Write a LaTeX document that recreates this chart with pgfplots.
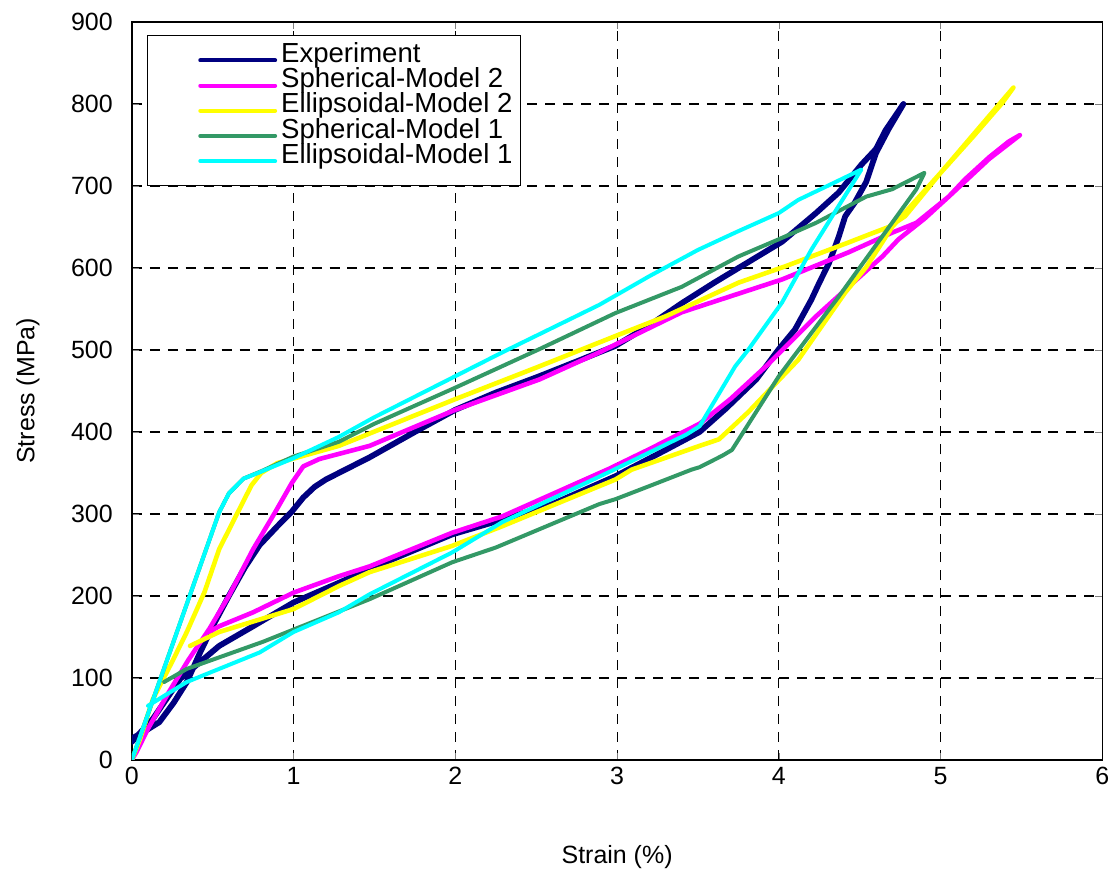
\documentclass[border=0pt]{standalone}
\usepackage{fontspec}
\setmainfont{Liberation Sans}
\usepackage{pgfplots}
\pgfplotsset{compat=1.18}

\definecolor{expcol}{RGB}{0,0,128}
\definecolor{sph2}{RGB}{255,0,255}
\definecolor{ell2}{RGB}{255,255,0}
\definecolor{sph1}{RGB}{51,153,102}
\definecolor{ell1}{RGB}{0,255,255}

\begin{document}
\begin{tikzpicture}
\begin{axis}[
    name=ax,
    scale only axis,
    width=486pt, height=369.5pt,
    xmin=0, xmax=6, ymin=0, ymax=900,
    xtick={0,1,...,6},
    ytick={0,100,...,900},
    tick align=inside,
    major tick length=3.5pt,
    axis line style={black, line width=0.9pt},
    grid=major,
    major grid style={black, line width=0.6pt, dash pattern=on 5pt off 4pt},
    tick label style={font=\fontsize{12.5}{14}\selectfont},
    /pgf/number format/assume math mode=true,
    yticklabel style={xshift=-6pt},
    xlabel={Strain (\%)},
    ylabel={Stress (MPa)},
    label style={font=\fontsize{12.5}{14}\selectfont},
    xlabel style={at={(axis description cs:0.5,-0.131)}, anchor=center},
    ylabel style={at={(axis description cs:-0.107,0.5)}, anchor=center},
    legend cell align=left,
    legend style={
        at={(0.0154,0.982)}, anchor=north west,
        draw=black, line width=0.6pt,
        font=\fontsize{13.8}{13.8}\selectfont,
        inner xsep=2pt, inner ysep=6pt,
        row sep=0pt, column sep=0pt,
        nodes={text height=7.4pt, text depth=5.2pt, inner ysep=0pt},
    },
    legend image code/.code={
        \path[draw=none] (0pt,0pt) -- (24.5pt,0pt);
        \draw[#1, line width=2pt, line cap=round] (24.5pt,0pt) -- (62pt,0pt);
    },
    every axis plot/.append style={line join=round, line cap=round},
]
% Experiment
\addplot[expcol, line width=2.9pt] coordinates {
(0,26) (0.08,35) (0.17,46) (0.26,70) (0.34,95) (0.42,130) (0.5,163) (0.6,200)
(0.7,235) (0.79,262) (0.9,285) (0.99,303) (1.06,320) (1.13,333) (1.2,342)
(1.3,352) (1.47,369) (1.75,400) (2.0,427) (2.25,448) (2.52,468) (2.75,486)
(2.99,505) (3.2,530) (3.4,557) (3.6,582) (3.81,607) (4.02,632) (4.23,667)
(4.37,692) (4.51,726) (4.6,745) (4.66,768) (4.77,800)
(4.68,770) (4.6,740) (4.54,705) (4.47,680) (4.41,663) (4.37,638) (4.31,606)
(4.25,582) (4.2,561) (4.1,525) (4.0,501) (3.86,464) (3.67,428) (3.51,400)
(3.3,378) (2.99,346) (2.6,312) (2.29,293) (1.98,275) (1.7,252) (1.47,233)
(1.28,216) (1.0,192) (0.75,163) (0.54,139) (0.3,99) (0.13,50) (0,22)
};
\addlegendentry{Experiment}
% Spherical-Model 2
\addplot[sph2, line width=2.3pt] coordinates {
(0,0) (0.03,10) (0.1,38) (0.23,83) (0.35,122) (0.48,160) (0.6,200) (0.75,257)
(0.88,300) (0.99,338) (1.06,358) (1.16,367) (1.47,383) (2.0,427) (2.52,464)
(2.89,497) (3.4,546) (4.02,586) (4.43,619) (4.7,643) (4.85,655) (5.05,687)
(5.15,708) (5.3,735) (5.42,754) (5.49,762)
(5.3,733) (5.05,687) (4.9,660) (4.74,635) (4.64,614) (4.56,600) (4.23,541)
(3.92,480) (3.7,440) (3.51,410) (3.2,379) (2.95,355) (2.29,297) (1.98,277)
(1.47,236) (1.28,224) (1.0,204) (0.75,180) (0.54,163) (0.48,156)
};
\addlegendentry{Spherical-Model 2}
% Ellipsoidal-Model 2
\addplot[ell2, line width=2.3pt] coordinates {
(0,0) (0.05,25) (0.13,74) (0.25,120) (0.34,156) (0.45,205) (0.54,257)
(0.65,300) (0.74,335) (0.8,350) (0.9,362) (1.28,383) (2.0,440) (2.52,480)
(2.99,517) (3.3,541) (3.75,582) (4.04,602) (4.43,631) (4.56,641) (4.68,650)
(4.78,663) (5.0,716) (5.2,760) (5.38,801) (5.45,820)
(5.0,716) (4.7,650) (4.54,601) (4.41,570) (4.12,488) (3.81,424) (3.63,391)
(3.51,383) (3.09,354) (2.99,342) (2.29,285) (1.98,261) (1.47,229) (1.28,212)
(1.0,184) (0.54,156) (0.36,139)
};
\addlegendentry{Ellipsoidal-Model 2}
% Spherical-Model 1
\addplot[sph1, line width=2pt] coordinates {
(0,0) (0.54,302) (0.6,325) (0.69,343) (0.8,352) (1.0,370) (1.28,388) (1.5,410)
(2.0,454) (2.52,501) (2.99,545) (3.4,577) (3.75,614) (4.0,635) (4.23,655)
(4.54,687) (4.7,696) (4.9,716)
(4.85,696) (4.37,565) (4.0,468) (3.71,378) (3.65,371) (3.51,357) (3.46,354)
(3.2,334) (2.99,318) (2.89,312) (2.25,259) (1.98,241) (1.47,196) (1.28,181)
(0.81,144) (0.34,111) (0.2,95)
};
\addlegendentry{Spherical-Model 1}
% Ellipsoidal-Model 1
\addplot[ell1, line width=2pt] coordinates {
(0,0) (0.54,302) (0.6,325) (0.69,343) (0.78,350) (1.0,368) (1.28,394) (1.5,418)
(2.0,468) (2.29,497) (2.89,555) (3.2,590) (3.5,622) (3.74,644) (4.0,667)
(4.12,683) (4.3,700) (4.51,720)
(4.2,622) (4.02,558) (3.81,500) (3.73,480) (3.51,407) (3.43,397) (2.95,351)
(2.29,290) (1.98,253) (1.47,202) (1.28,180) (1.0,156) (0.79,131) (0.34,95)
(0.1,66)
};
\addlegendentry{Ellipsoidal-Model 1}
\end{axis}
\useasboundingbox ([xshift=-66pt,yshift=-58pt]ax.south west) rectangle ([xshift=6pt,yshift=11pt]ax.north east);
\end{tikzpicture}
\end{document}
